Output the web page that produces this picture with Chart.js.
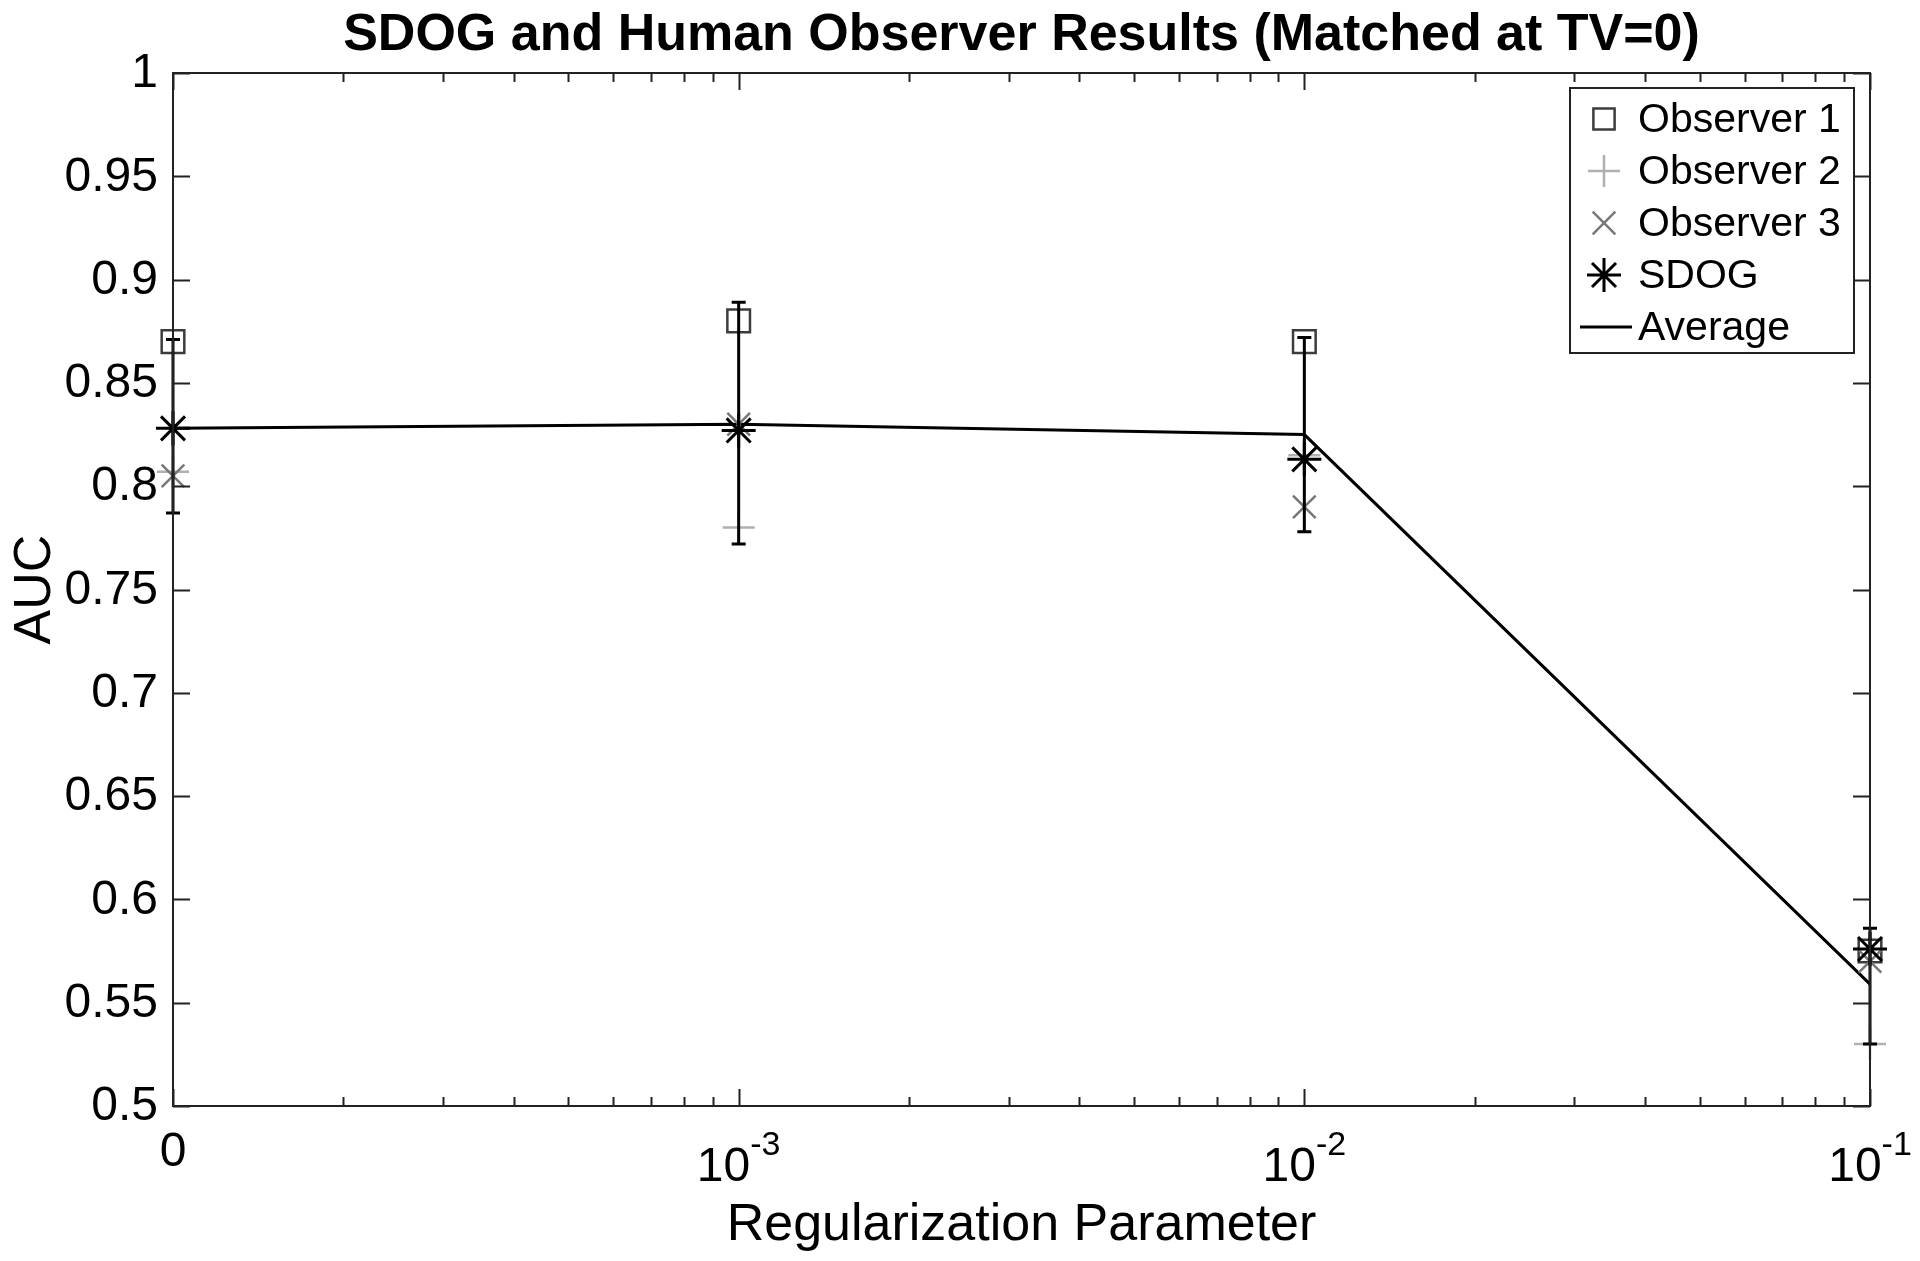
<!DOCTYPE html>
<html>
<head>
<meta charset="utf-8">
<script src="https://cdn.jsdelivr.net/npm/chart.js@4.4.1/dist/chart.umd.min.js"></script>
<style>
html,body{margin:0;padding:0;background:#fff;}
canvas{display:block;}
</style>
</head>
<body>
<canvas id="c" width="1920" height="1261"></canvas>
<script>
// ---- data ----
const xPositions = [1e-4, 1e-3, 1e-2, 1e-1];   // "0" is drawn at the 1e-4 decade
const xTickBase = ['0', '10', '10', '10'];
const xTickExp  = ['', '-3', '-2', '-1'];
const yTicks = [0.5, 0.55, 0.6, 0.65, 0.7, 0.75, 0.8, 0.85, 0.9, 0.95, 1];
const yTickLabels = ['0.5','0.55','0.6','0.65','0.7','0.75','0.8','0.85','0.9','0.95','1'];
const observer1 = [0.870, 0.880, 0.870, 0.575];
const observer2 = [0.807, 0.780, 0.815, 0.530];
const observer3 = [0.805, 0.830, 0.790, 0.570];
const sdog      = [0.828, 0.827, 0.813, 0.576];
const average   = [0.828, 0.830, 0.825, 0.559];
const errLow    = [0.787, 0.772, 0.778, 0.530];
const errHigh   = [0.871, 0.889, 0.872, 0.586];
const titleText = 'SDOG and Human Observer Results (Matched at TV=0)';
const xTitle = 'Regularization Parameter';
const yTitle = 'AUC';

const FONT = '"Liberation Sans", Arial, Helvetica, sans-serif';
const pts = arr => arr.map((v, i) => ({x: xPositions[i], y: v}));

function drawMarker(ctx, style, x, y, r, color, lw) {
  ctx.save();
  ctx.strokeStyle = color; ctx.lineWidth = lw;
  ctx.beginPath();
  if (style === 'rect') {
    const s = r * Math.SQRT1_2;
    ctx.rect(x - s, y - s, 2 * s, 2 * s);
  } else if (style === 'cross' || style === 'star') {
    ctx.moveTo(x - r, y); ctx.lineTo(x + r, y);
    ctx.moveTo(x, y - r); ctx.lineTo(x, y + r);
  }
  if (style === 'crossRot' || style === 'star') {
    const d = r * Math.SQRT1_2;
    ctx.moveTo(x - d, y - d); ctx.lineTo(x + d, y + d);
    ctx.moveTo(x - d, y + d); ctx.lineTo(x + d, y - d);
  }
  ctx.stroke();
  ctx.restore();
}

const decor = {
  id: 'decor',
  afterDatasetsDraw(chart) {
    const ctx = chart.ctx;
    const xs = chart.scales.x, ys = chart.scales.y;
    // error bars (mean +/- spread) on top
    ctx.save();
    ctx.strokeStyle = '#000'; ctx.lineWidth = 3;
    xPositions.forEach((xv, i) => {
      const px = xs.getPixelForValue(xv);
      const y1 = ys.getPixelForValue(errLow[i]);
      const y2 = ys.getPixelForValue(errHigh[i]);
      ctx.beginPath();
      ctx.moveTo(px, y1); ctx.lineTo(px, y2);
      ctx.moveTo(px - 7, y1); ctx.lineTo(px + 7, y1);
      ctx.moveTo(px - 7, y2); ctx.lineTo(px + 7, y2);
      ctx.stroke();
    });
    ctx.restore();
  },
  afterDraw(chart) {
    const ctx = chart.ctx;
    const xs = chart.scales.x, ys = chart.scales.y;
    const a = chart.chartArea;
    ctx.save();
    // axes box
    ctx.strokeStyle = '#222'; ctx.lineWidth = 2;
    ctx.strokeRect(a.left, a.top, a.right - a.left, a.bottom - a.top);
    // y ticks (inward, both sides)
    ctx.beginPath();
    yTicks.forEach(v => {
      const py = Math.round(ys.getPixelForValue(v)) + 0.5;
      ctx.moveTo(a.left, py); ctx.lineTo(a.left + 17, py);
      ctx.moveTo(a.right, py); ctx.lineTo(a.right - 17, py);
    });
    // x ticks: major and log minor, inward, top and bottom
    for (let k = -4; k <= -1; k++) {
      for (let m = 1; m <= 9; m++) {
        const v = m * Math.pow(10, k);
        if (v > 0.1 * 1.0001) break;
        const px = Math.round(xs.getPixelForValue(v)) + 0.5;
        const len = m === 1 ? 17 : 9;
        ctx.moveTo(px, a.bottom); ctx.lineTo(px, a.bottom - len);
        ctx.moveTo(px, a.top); ctx.lineTo(px, a.top + len);
      }
    }
    ctx.stroke();

    ctx.fillStyle = '#000';
    // y tick labels
    ctx.font = '48px ' + FONT;
    ctx.textAlign = 'right'; ctx.textBaseline = 'middle';
    yTicks.forEach((v, i) => {
      ctx.fillText(yTickLabels[i], a.left - 15, ys.getPixelForValue(v) + 1);
    });
    // x tick labels with superscript exponents
    ctx.textBaseline = 'alphabetic';
    xPositions.forEach((v, i) => {
      const px = xs.getPixelForValue(v);
      ctx.font = '48px ' + FONT;
      const bw = ctx.measureText(xTickBase[i]).width;
      let ew = 0;
      if (xTickExp[i]) { ctx.font = '34px ' + FONT; ew = ctx.measureText(xTickExp[i]).width; }
      const start = px - (bw + ew) / 2;
      ctx.textAlign = 'left';
      ctx.font = '48px ' + FONT;
      const base = xTickExp[i] ? a.bottom + 75 : a.bottom + 60;
      ctx.fillText(xTickBase[i], start, base);
      if (xTickExp[i]) {
        ctx.font = '34px ' + FONT;
        ctx.fillText(xTickExp[i], start + bw, base - 26);
      }
    });
    // axis titles
    ctx.font = '52px ' + FONT;
    ctx.textAlign = 'center';
    ctx.fillText(xTitle, (a.left + a.right) / 2, 1240);
    ctx.save();
    ctx.translate(50, (a.top + a.bottom) / 2);
    ctx.rotate(-Math.PI / 2);
    ctx.fillText(yTitle, 0, 0);
    ctx.restore();
    // title
    ctx.font = 'bold 52px ' + FONT;
    ctx.fillText(titleText, (a.left + a.right) / 2, 50);

    // legend
    const lx = 1570, ly = 88, lw = 284, lh = 265;
    ctx.fillStyle = '#fff';
    ctx.fillRect(lx, ly, lw, lh);
    ctx.strokeStyle = '#222'; ctx.lineWidth = 2;
    ctx.strokeRect(lx, ly, lw, lh);
    const rows = [119, 171, 223, 275, 327];
    chart.data.datasets.forEach((ds, i) => {
      const cy = rows[i];
      if (ds.showLine === false) {
        drawMarker(ctx, ds.pointStyle, 1604, cy, ds.legendRadius, ds.borderColor, ds.pointBorderWidth);
      } else {
        ctx.strokeStyle = ds.borderColor; ctx.lineWidth = ds.borderWidth;
        ctx.beginPath(); ctx.moveTo(1580, cy); ctx.lineTo(1632, cy); ctx.stroke();
      }
      ctx.fillStyle = '#000';
      ctx.font = '41px ' + FONT;
      ctx.textAlign = 'left'; ctx.textBaseline = 'middle';
      ctx.fillText(ds.label, 1638, cy + 2);
    });
    ctx.restore();
  }
};

new Chart(document.getElementById('c'), {
  type: 'scatter',
  data: {
    datasets: [
      {label: 'Observer 1', data: pts(observer1), showLine: false, pointStyle: 'rect',
       pointRadius: 16, pointBorderWidth: 2.5, borderColor: '#3c3c3c', backgroundColor: 'rgba(0,0,0,0)',
       legendRadius: 15, order: 4, clip: false},
      {label: 'Observer 2', data: pts(observer2), showLine: false, pointStyle: 'cross',
       pointRadius: 16, pointBorderWidth: 2.5, borderColor: '#b0b0b0', backgroundColor: 'rgba(0,0,0,0)',
       legendRadius: 16, order: 3, clip: false},
      {label: 'Observer 3', data: pts(observer3), showLine: false, pointStyle: 'crossRot',
       pointRadius: 16, pointBorderWidth: 2.5, borderColor: '#777777', backgroundColor: 'rgba(0,0,0,0)',
       legendRadius: 16, order: 2, clip: false},
      {label: 'SDOG', data: pts(sdog), showLine: false, pointStyle: 'star',
       pointRadius: 17, pointBorderWidth: 3, borderColor: '#000', backgroundColor: 'rgba(0,0,0,0)',
       legendRadius: 17, order: 1, clip: false},
      {label: 'Average', data: pts(average), showLine: true, pointRadius: 0, borderWidth: 3,
       borderColor: '#000', backgroundColor: 'rgba(0,0,0,0)', tension: 0, order: 5, clip: false}
    ]
  },
  options: {
    responsive: false, animation: false, devicePixelRatio: 1,
    layout: {padding: {left: 173, right: 50, top: 73, bottom: 155}},
    plugins: {legend: {display: false}, title: {display: false}, tooltip: {enabled: false}},
    scales: {
      x: {type: 'logarithmic', min: 1e-4, max: 1e-1, display: false},
      y: {type: 'linear', min: 0.5, max: 1, display: false}
    }
  },
  plugins: [decor]
});
</script>
</body>
</html>
